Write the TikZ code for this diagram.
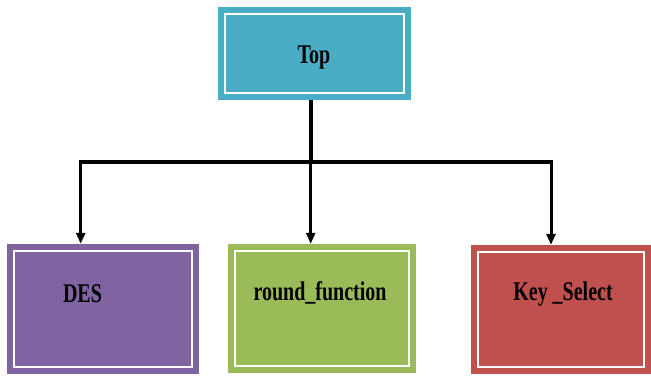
\documentclass[tikz,border=0pt]{standalone}
\usepackage{fontspec}
\usepackage{tikz}
\usetikzlibrary{arrows.meta, positioning, calc}
\newfontfamily\boxfont[FakeStretch=0.74]{Liberation Serif}
\definecolor{topfill}{RGB}{75, 172, 198}
\definecolor{desfill}{RGB}{128, 100, 162}
\definecolor{roundfill}{RGB}{155, 187, 89}
\definecolor{keyfill}{RGB}{192, 80, 77}

\begin{document}
\begin{tikzpicture}[
      x=1pt, y=-1pt,
      blk/.style={rectangle, draw=none, inner sep=0pt,
                  path picture={
                    \draw[white, line width=2.5pt]
                      ([shift={(7pt,-7pt)}]path picture bounding box.north west)
                      rectangle
                      ([shift={(-7pt,7pt)}]path picture bounding box.south east);}},
      lbl/.style={anchor=base, inner sep=0pt,
                  font=\boxfont\bfseries\fontsize{27}{30}\selectfont},
      trunk/.style={line width=4pt},
      drop/.style={line width=3pt,
                   -{Triangle[width=9pt,length=11pt]}},
  ]
  \useasboundingbox (0,0) rectangle (651,376);

  % boxes
  \node[blk, fill=topfill, minimum width=193pt, minimum height=93pt]
      (top) at (314.5, 53.5) {};
  \node[blk, fill=desfill, minimum width=192pt, minimum height=130pt]
      (des) at (103, 309) {};
  \node[blk, fill=roundfill, minimum width=188pt, minimum height=129pt]
      (round) at (322, 308.5) {};
  \node[blk, fill=keyfill, minimum width=180pt, minimum height=129pt]
      (keysel) at (561, 309.5) {};

  % box texts
  \node[lbl] (toplbl) at (314, 63) {Top};
  \node[lbl] (deslbl) at (82.5, 302) {DES};
  \node[lbl] (roundlbl) at (320, 300) {round\_function};
  \node[lbl] (keylbl) at (563, 300) {Key \_Select};

  % tree connectors
  \coordinate (split) at (310.7, 162);
  \coordinate (jl) at (80.7, 162);
  \coordinate (jr) at (551, 162);
  \draw[trunk] (top.south -| split) -- (split);
  \draw[trunk, line cap=rect] (jl) -- (jr);
  \draw[drop] (jl) -- (jl |- des.north);
  \draw[drop, line width=2.5pt] (split) -- (split |- round.north);
  \draw[drop] (jr) -- (jr |- keysel.north);
\end{tikzpicture}
\end{document}
